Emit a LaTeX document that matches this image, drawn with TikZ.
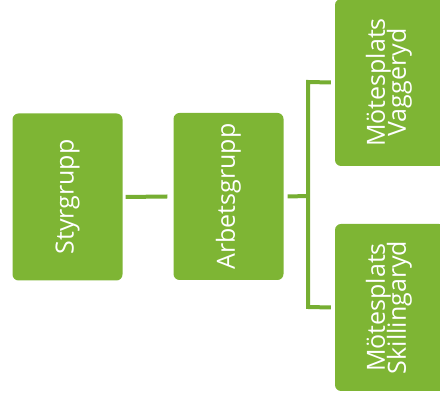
\documentclass[tikz,border=0pt]{standalone}
\usepackage{fontspec}
\setmainfont{Open Sans}
\definecolor{boxgreen}{RGB}{126,181,52}
\definecolor{linegreen}{RGB}{118,174,50}
\begin{document}
\begin{tikzpicture}[x=1pt,y=1pt,
  gbox/.style={draw=none,fill=boxgreen,rounded corners=6pt,minimum width=110pt,minimum height=167pt,inner sep=0pt,text=white,font=\fontsize{25}{27}\selectfont},
  conn/.style={draw=linegreen,line width=4pt}]
\useasboundingbox (0,0) rectangle (440,401);
\node[gbox] (sty) at (67.5,204) {\rotatebox{90}{Styrgrupp}};
\node[gbox] (arb) at (228.5,204.5) {\rotatebox{90}{Arbetsgrupp}};
\node[gbox] (vag) at (390,318.5) {\rotatebox{90}{\begin{tabular}{@{}c@{}}Mötesplats\\[-6pt]Vaggeryd\end{tabular}}};
\node[gbox] (ski) at (390,93.5) {\rotatebox{90}{\begin{tabular}{@{}c@{}}Mötesplats\\[-6pt]Skillingaryd\end{tabular}}};
\coordinate (bt) at (308,319);
\coordinate (bb) at (308,94);
\coordinate (bm) at (308,205);
\draw[conn] ([xshift=3pt]sty.east) -- ([xshift=-6pt]arb.west);
\draw[conn] ([xshift=4pt]arb.east) -- (bm);
\draw[conn] ([xshift=-4pt]vag.west) -- (bt) -- (bb) -- ([xshift=-4pt]ski.west);
\end{tikzpicture}
\end{document}
